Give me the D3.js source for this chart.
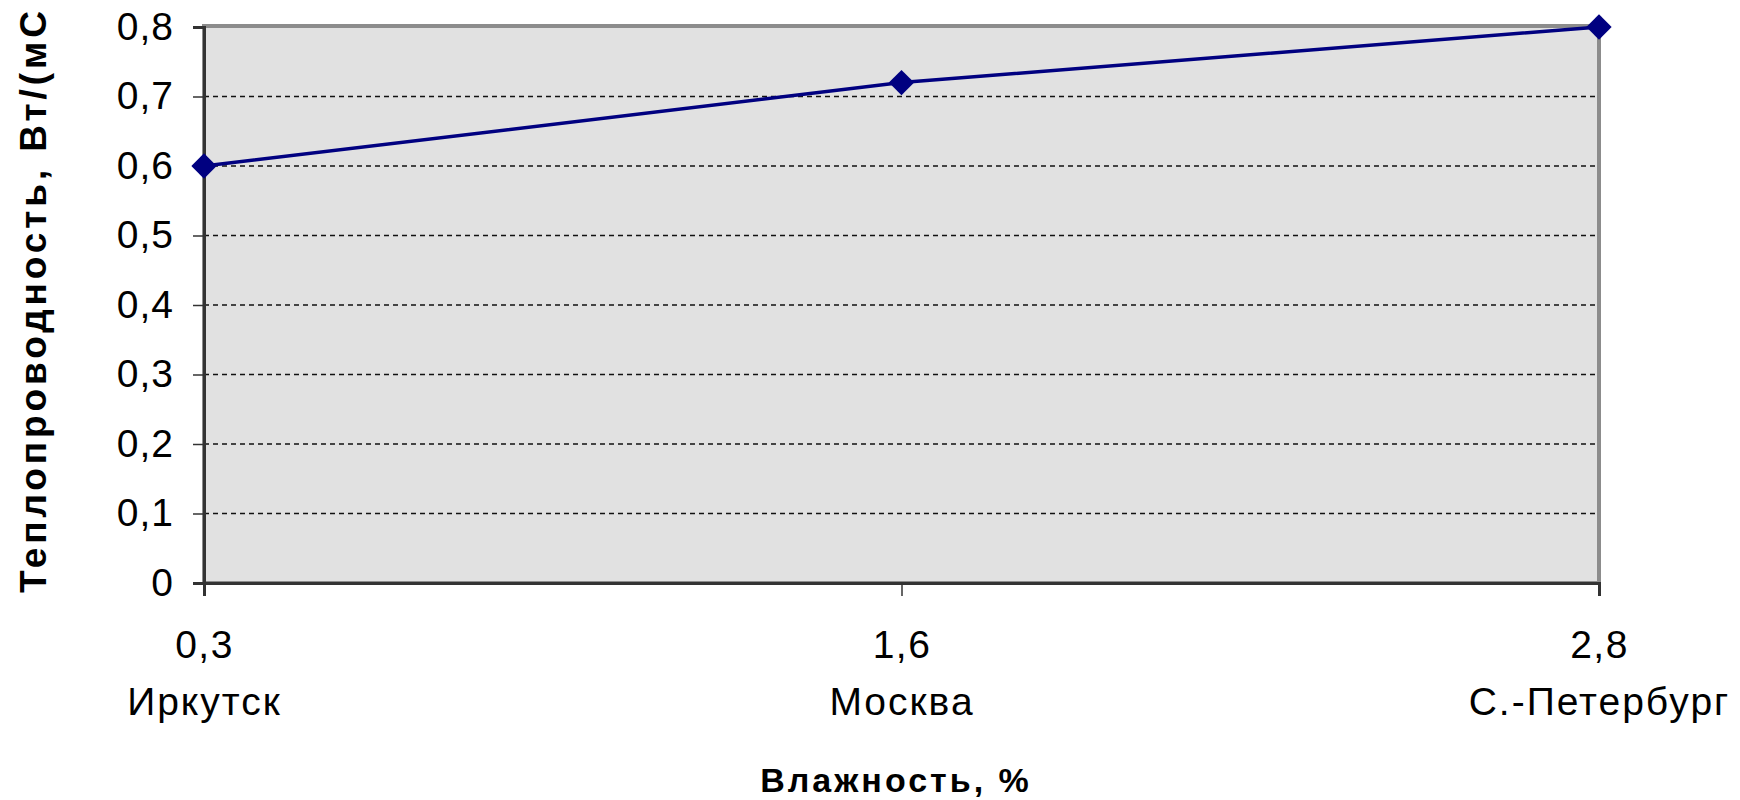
<!DOCTYPE html>
<html>
<head>
<meta charset="utf-8">
<script src="https://cdn.jsdelivr.net/npm/d3@7"></script>
<style>
  html, body { margin: 0; padding: 0; background: #fff; }
  svg { display: block; font-family: "Liberation Sans", Arial, sans-serif; }
</style>
</head>
<body>
<svg id="chart" width="1740" height="800"></svg>
<script>
// Cities along the horizontal axis, with their humidity (%) shown above each name
const cities = ["Иркутск", "Москва", "С.-Петербург"];
const humidity = ["0,3", "1,6", "2,8"];
// Thermal conductivity, W/(m·°C)
const conductivity = [0.6, 0.72, 0.8];
const yTicks = [0, 0.1, 0.2, 0.3, 0.4, 0.5, 0.6, 0.7, 0.8];

const yTitle = "Теплопроводность, Вт/(мС";
const xTitle = "Влажность, %";

const svg = d3.select("#chart");
const plot = { left: 204, right: 1599, top: 27, bottom: 583 };

const x = d3.scalePoint().domain(cities).range([plot.left, plot.right]);
const y = d3.scaleLinear().domain([0, 0.8]).range([plot.bottom, plot.top]);
const comma = v => d3.format(".1f")(v).replace(".", ",").replace(/^0,0$/, "0");

// plot area background and grey frame
svg.append("rect")
  .attr("x", plot.left).attr("y", plot.top - 1)
  .attr("width", plot.right - plot.left).attr("height", plot.bottom - plot.top + 1)
  .attr("fill", "#e1e1e1")
  .attr("stroke", "#8c8c8c").attr("stroke-width", 4);

// dashed horizontal gridlines
svg.append("g").selectAll("line")
  .data(yTicks.filter(t => t > 0 && t < 0.8))
  .join("line")
  .attr("x1", plot.left).attr("x2", plot.right - 2)
  .attr("y1", d => y(d)).attr("y2", d => y(d))
  .attr("stroke", "#111").attr("stroke-width", 1.5)
  .attr("stroke-dasharray", "5,4");

// y axis
const yAxis = svg.append("g")
  .attr("transform", `translate(${plot.left},0)`)
  .call(d3.axisLeft(y).tickValues(yTicks).tickFormat(comma).tickSize(11).tickPadding(19));
yAxis.select(".domain").attr("stroke", "#333").attr("stroke-width", 3);
yAxis.selectAll(".tick line").attr("stroke", "#333").attr("stroke-width", 1.5);
yAxis.selectAll(".tick text")
  .attr("font-size", 39).attr("fill", "#000")
  .attr("font-family", "'Liberation Sans', Arial, sans-serif")
  .style("letter-spacing", "1px");

// x axis: the tick label holds humidity and city on two lines
const xAxis = svg.append("g")
  .attr("transform", `translate(0,${plot.bottom})`)
  .call(d3.axisBottom(x).tickSize(13).tickFormat(() => ""));
xAxis.select(".domain").attr("stroke", "#333").attr("stroke-width", 3);
xAxis.selectAll(".tick line").attr("stroke", "#333").attr("stroke-width", 1.5);
xAxis.selectAll(".tick text").remove();
xAxis.selectAll(".tick").each(function (d, i) {
  const g = d3.select(this);
  g.append("text").attr("y", 75).attr("text-anchor", "middle")
    .attr("font-size", 39).attr("fill", "#000")
    .style("letter-spacing", "1.5px")
    .text(humidity[i]);
  g.append("text").attr("y", 132).attr("text-anchor", "middle")
    .attr("font-size", 39).attr("fill", "#000")
    .style("letter-spacing", "2px")
    .text(cities[i]);
});

// data line
const line = d3.line().x((d, i) => x(cities[i])).y(d => y(d));
svg.append("path")
  .datum(conductivity)
  .attr("d", line)
  .attr("fill", "none")
  .attr("stroke", "#000080")
  .attr("stroke-width", 3.5);

// diamond markers
const diamond = d3.symbol().type(d3.symbolSquare).size(320);
svg.append("g").selectAll("path")
  .data(conductivity)
  .join("path")
  .attr("d", diamond)
  .attr("transform", (d, i) => `translate(${x(cities[i])},${y(d)}) rotate(45)`)
  .attr("fill", "#000080");

// axis titles
svg.append("text")
  .attr("transform", "translate(46,593) rotate(-90)")
  .attr("font-size", 37).attr("font-weight", "bold").attr("fill", "#000")
  .style("letter-spacing", "3.9px")
  .text(yTitle);

svg.append("text")
  .attr("x", 896).attr("y", 792).attr("text-anchor", "middle")
  .attr("font-size", 34).attr("font-weight", "bold").attr("fill", "#000")
  .style("letter-spacing", "3px")
  .text(xTitle);
</script>
</body>
</html>
